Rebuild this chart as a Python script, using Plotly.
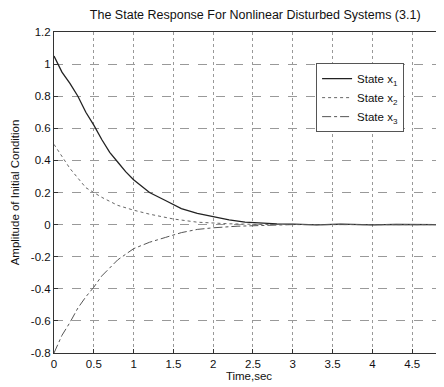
import plotly.graph_objects as go

t1 = [0, 0.1, 0.2, 0.3, 0.4, 0.5, 0.6, 0.7, 0.8, 0.9, 1.0, 1.1, 1.2, 1.4, 1.6, 1.8, 2.0, 2.2, 2.4, 2.6, 2.8, 3.0, 3.3, 3.6, 4.0, 4.3, 4.6, 4.9]
x1 = [1.05, 0.95, 0.88, 0.80, 0.70, 0.62, 0.53, 0.45, 0.39, 0.33, 0.28, 0.24, 0.20, 0.15, 0.10, 0.07, 0.05, 0.03, 0.015, 0.008, 0.004, 0.003, -0.002, 0.003, -0.002, 0.002, -0.001, 0.0]

t2 = [0, 0.2, 0.4, 0.6, 0.8, 1.0, 1.2, 1.5, 1.8, 2.2, 2.6, 3.0, 4.0, 4.9]
x2 = [0.5, 0.35, 0.23, 0.17, 0.12, 0.09, 0.065, 0.035, 0.015, 0.005, 0.001, 0.0, 0.0, 0.0]

t3 = [0, 0.05, 0.1, 0.2, 0.3, 0.4, 0.5, 0.6, 0.7, 0.8, 1.0, 1.2, 1.4, 1.6, 1.8, 2.0, 2.3, 2.6, 3.0, 4.0, 4.9]
x3 = [-0.8, -0.74, -0.69, -0.61, -0.52, -0.45, -0.39, -0.32, -0.27, -0.22, -0.15, -0.11, -0.08, -0.05, -0.03, -0.02, -0.01, -0.004, 0.0, 0.0, 0.0]

x_ticks = [0, 0.5, 1, 1.5, 2, 2.5, 3, 3.5, 4, 4.5]
y_ticks = [-0.8, -0.6, -0.4, -0.2, 0, 0.2, 0.4, 0.6, 0.8, 1, 1.2]

fig = go.Figure()
fig.add_trace(go.Scatter(x=t1, y=x1, mode="lines", name="State x<sub>1</sub>",
                         line=dict(color="#222222", width=1.3, dash="solid")))
fig.add_trace(go.Scatter(x=t2, y=x2, mode="lines", name="State x<sub>2</sub>",
                         line=dict(color="#666666", width=1, dash="dot")))
fig.add_trace(go.Scatter(x=t3, y=x3, mode="lines", name="State x<sub>3</sub>",
                         line=dict(color="#555555", width=1, dash="dashdot")))

FAM = "Liberation Sans, Arial, sans-serif"

fig.update_layout(
    width=436, height=379,
    margin=dict(l=46, r=0, t=24, b=34, autoexpand=False),
    paper_bgcolor="white", plot_bgcolor="white",
    font=dict(family=FAM, size=11, color="#111111"),
    title=dict(text="The State Response For Nonlinear Disturbed Systems (3.1)",
               x=0.567, xanchor="center", y=0.982, yanchor="middle",
               font=dict(family=FAM, size=12.5, color="#111111")),
    showlegend=True,
    legend=dict(x=0.672, y=0.903, xanchor="left", yanchor="top",
                bgcolor="white", bordercolor="#555555", borderwidth=1,
                font=dict(size=11.5)),
    xaxis=dict(range=[0, 4.9], tickvals=x_ticks, ticktext=[str(v) for v in x_ticks],
               showgrid=True, gridcolor="#999999", griddash="dot", gridwidth=1,
               showline=True, linecolor="#333333", mirror=True,
               ticks="inside", ticklen=4, tickcolor="#333333",
               zeroline=False, automargin=False,
               tickfont=dict(size=11.5),
               title=dict(text="Time,sec", standoff=3, font=dict(size=11.5))),
    yaxis=dict(range=[-0.8, 1.2], tickvals=y_ticks, ticktext=[("%g" % v) for v in y_ticks],
               showgrid=True, gridcolor="#999999", griddash="dash", gridwidth=1,
               showline=True, linecolor="#333333", mirror=True,
               ticks="inside", ticklen=4, tickcolor="#333333",
               zeroline=False, automargin=False,
               tickfont=dict(size=11.5),
               title=dict(text="Amplitude of Initial Condition", standoff=8, font=dict(size=11.5))),
)

fig.write_html("out.html")
